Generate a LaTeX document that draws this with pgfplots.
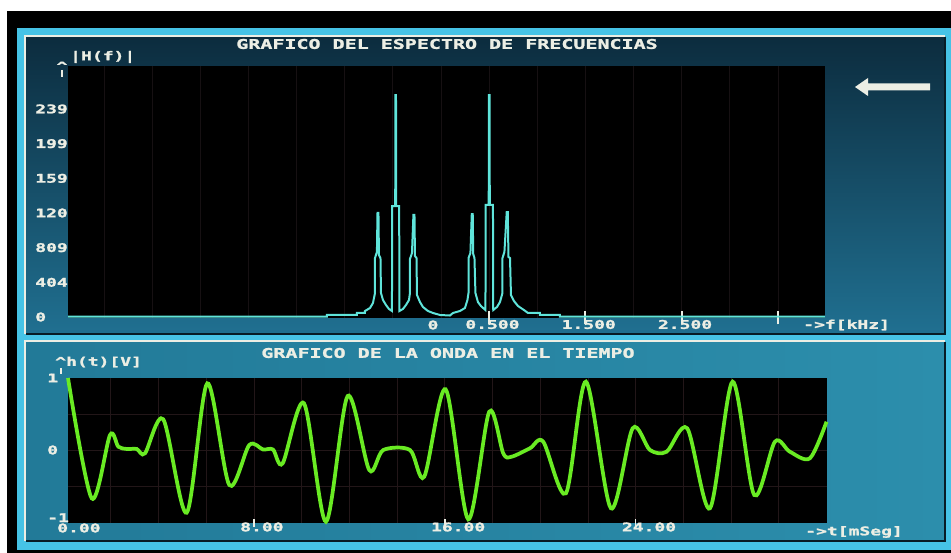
\documentclass[border=0pt]{standalone}
\usepackage{pgfplots}
\pgfplotsset{compat=1.18}
\usepackage{fontspec}
\newfontfamily\scr[FakeStretch=1.5,FakeBold=1.6]{DejaVu Sans Mono Bold}
\newcommand{\ttl}{\scr\fontsize{10}{12}\selectfont}
\newcommand{\tkl}{\scr\fontsize{9}{10}\selectfont}
\definecolor{scrtext}{RGB}{236,238,228}
\definecolor{cyanb}{RGB}{70,195,230}
\definecolor{panelTop}{RGB}{12,44,62}
\definecolor{panelBot}{RGB}{32,112,145}
\definecolor{lowL}{RGB}{34,122,152}
\definecolor{lowR}{RGB}{44,142,172}
\definecolor{spec}{RGB}{95,228,218}
\definecolor{wave}{RGB}{105,235,35}
\definecolor{gridu}{RGB}{22,16,18}
\definecolor{gridl}{RGB}{34,22,24}
\definecolor{edgeDark}{RGB}{8,28,38}

\pgfplotstableread{
x y
-3.873 0.3
-1.184 0.3
-1.184 2.3
-0.872 2.3
-0.872 4.6
-0.789 4.6
-0.789 6.9
-0.737 10.3
-0.706 16.1
-0.685 27.6
-0.685 67.8
-0.665 74.7
-0.659 119.5
-0.649 119.5
-0.644 71.2
-0.628 67.8
-0.623 27.6
-0.602 19.5
-0.571 13.8
-0.540 9.2
-0.509 6.9
-0.506 127.5
-0.475 127.5
-0.473 255
-0.467 255
-0.465 127.5
-0.434 127.5
-0.431 6.9
-0.395 9.2
-0.363 13.8
-0.332 19.5
-0.322 27.6
-0.322 66.6
-0.301 73.5
-0.286 117.2
-0.275 117.2
-0.270 70.1
-0.254 67.8
-0.249 25.3
-0.218 17.2
-0.187 11.5
-0.135 6.9
-0.083 4.6
-0.010 2.3
0.093 1.7
0.125 4.6
0.197 6.9
0.249 10.3
0.275 19.5
0.286 27.6
0.286 67.8
0.306 73.5
0.320 118.3
0.330 118.3
0.335 72.4
0.348 67.8
0.358 27.6
0.384 17.2
0.415 12.6
0.462 8.0
0.465 128.7
0.496 128.7
0.498 255
0.505 255
0.507 128.7
0.540 128.7
0.543 8.0
0.582 11.5
0.613 17.2
0.639 27.6
0.639 67.8
0.659 74.7
0.683 120.6
0.694 120.6
0.701 69
0.717 67.8
0.727 25.3
0.758 18.4
0.800 12.6
0.862 8.0
0.903 4.6
1.028 4.6
1.028 2.3
1.236 2.3
1.236 0.3
3.988 0.3
}\spectrum

\pgfplotstableread{
t h
0.205 1.0
1.199 -0.671
1.966 0.208
2.313 0.046
2.666 0.014
3.085 0.014
3.433 -0.046
4.199 0.426
5.180 -0.871
6.044 0.926
6.966 -0.486
7.804 0.069
8.378 0.007
8.797 0.007
9.204 -0.185
10.096 0.649
11.018 -0.996
11.928 0.75
12.833 -0.278
13.420 0
14.539 0
15.138 -0.371
16.035 0.843
16.982 -0.963
17.862 0.532
18.449 -0.046
18.801 -0.093
19.568 0.024
20.126 0.115
21.077 -0.601
21.915 0.949
22.963 -0.81
23.873 0.301
24.598 0
25.298 -0.024
26.161 0.301
27.113 -0.81
28.064 0.949
28.969 -0.625
29.837 0.115
30.465 -0.024
31.304 -0.115
32.0 0.393
}\wavedata

\begin{document}
\begin{tikzpicture}
\fill[white] (0,0) rectangle (713.25pt,414.75pt);
\begin{scope}[x=0.75pt,y=-0.75pt,yshift=414.75pt]
 \fill[black] (7,11) rectangle (951,553);
 \fill[cyanb] (17,28) rectangle (951,550);
 % upper panel
 \shade[top color=panelTop,bottom color=panelBot] (26,37) rectangle (945,334);
 \draw[edgeDark,line width=1.5pt] (26,334) -- (945,334) -- (945,37);
 \draw[scrtext,line width=1.5pt] (25,334) -- (25,36) -- (945,36);
 % lower panel
 \shade[left color=lowL,right color=lowR] (26,342) rectangle (945,541);
 \draw[edgeDark,line width=1.5pt] (26,541) -- (945,541) -- (945,342);
 \draw[scrtext,line width=1.5pt] (25,541) -- (25,341) -- (945,341);
 % arrow
 \fill[scrtext] (855,87) -- (868,78) -- (868,83.5) -- (930,83.5) -- (930,90.5) -- (868,90.5) -- (868,96) -- cycle;
 % texts
 \node[text=scrtext,font=\ttl] at (447,44) {GRAFICO DEL ESPECTRO DE FRECUENCIAS};
 \node[text=scrtext,font=\ttl] at (448,353) {GRAFICO DE LA ONDA EN EL TIEMPO};
 \node[text=scrtext,font=\tkl,anchor=west,inner sep=0pt] at (70,57) {|H(f)|};
 \node[text=scrtext,font=\tkl,inner sep=0pt] at (62,66) {\textasciicircum};
 \draw[scrtext,line width=1.5pt] (62,70) -- (62,77);
 \node[text=scrtext,font=\tkl,anchor=west,inner sep=0pt] at (55,362) {\textasciicircum h(t)[V]};
 \draw[scrtext,line width=1.5pt] (61,368) -- (61,374);
 \node[text=scrtext,font=\tkl,inner sep=0pt] at (433,325) {0};
 \node[text=scrtext,font=\tkl,anchor=west,inner sep=0pt] at (803,325) {->f[kHz]};
 \node[text=scrtext,font=\tkl,anchor=west,inner sep=0pt] at (57,528) {0.00};
 \node[text=scrtext,font=\tkl,anchor=west,inner sep=0pt] at (805,532) {->t[mSeg]};
\end{scope}

\begin{axis}[
  at={(51pt,176.25pt)}, anchor=south west,
  scale only axis, width=567.75pt, height=189pt,
  xmin=-3.873, xmax=3.988, ymin=-1.15, ymax=288.4,
  axis background/.style={fill=black},
  axis line style={draw=none},
  xtick pos=bottom, ytick pos=left,
  xtick={0.5,1.5,2.5,3.5}, xticklabels={0.500,1.500,2.500,{}},
  xtick align=center, major tick length=9.75pt,
  xtick style={scrtext,line width=1.5pt},
  ytick={0,39.8,79.7,119.5,159.3,199.2,239},
  yticklabels={0,404,809,120,159,199,239},
  ytick style={draw=none},
  minor xtick={-3.5,-3,...,3.5}, xminorgrids=true,
  minor grid style={gridu,line width=0.6pt},
  minor tick length=0pt,
  tick label style={font=\tkl,text=scrtext,inner sep=0pt},
  xticklabel style={anchor=west,xshift=-18pt},
  yticklabel style={anchor=west,xshift=-24.75pt},
  clip=false,
]
\addplot[spec,line width=1.5pt] table[x=x,y=y] {\spectrum};
\end{axis}

\begin{axis}[
  at={(51pt,22.5pt)}, anchor=south west,
  scale only axis, width=569.25pt, height=108.75pt,
  xmin=0.205, xmax=32.02, ymin=-1.014, ymax=1,
  axis background/.style={fill=black},
  axis line style={draw=none},
  xtick pos=bottom, ytick pos=left,
  xtick={8,16,24}, xticklabels={8.00,16.00,24.00},
  xtick align=center, major tick length=6pt,
  xtick style={scrtext,line width=1.2pt},
  ytick={-0.94,0,1}, yticklabels={-1,0,1},
  ytick style={draw=none},
  minor xtick={2,4,...,30}, minor ytick={-0.5,0,0.5},
  xminorgrids=true, yminorgrids=true,
  minor grid style={gridl,line width=0.6pt},
  minor tick length=0pt,
  tick label style={font=\tkl,text=scrtext,inner sep=0pt},
  xticklabel style={anchor=west,xshift=-10.5pt},
  yticklabel style={anchor=west,xshift=-15.75pt},
  clip=false,
]
\addplot[wave,line width=2.8pt,smooth,tension=0.5] table[x=t,y=h] {\wavedata};
\end{axis}
\pgfresetboundingbox
\path (0,0) rectangle (713.25pt,414.75pt);
\end{tikzpicture}
\end{document}
